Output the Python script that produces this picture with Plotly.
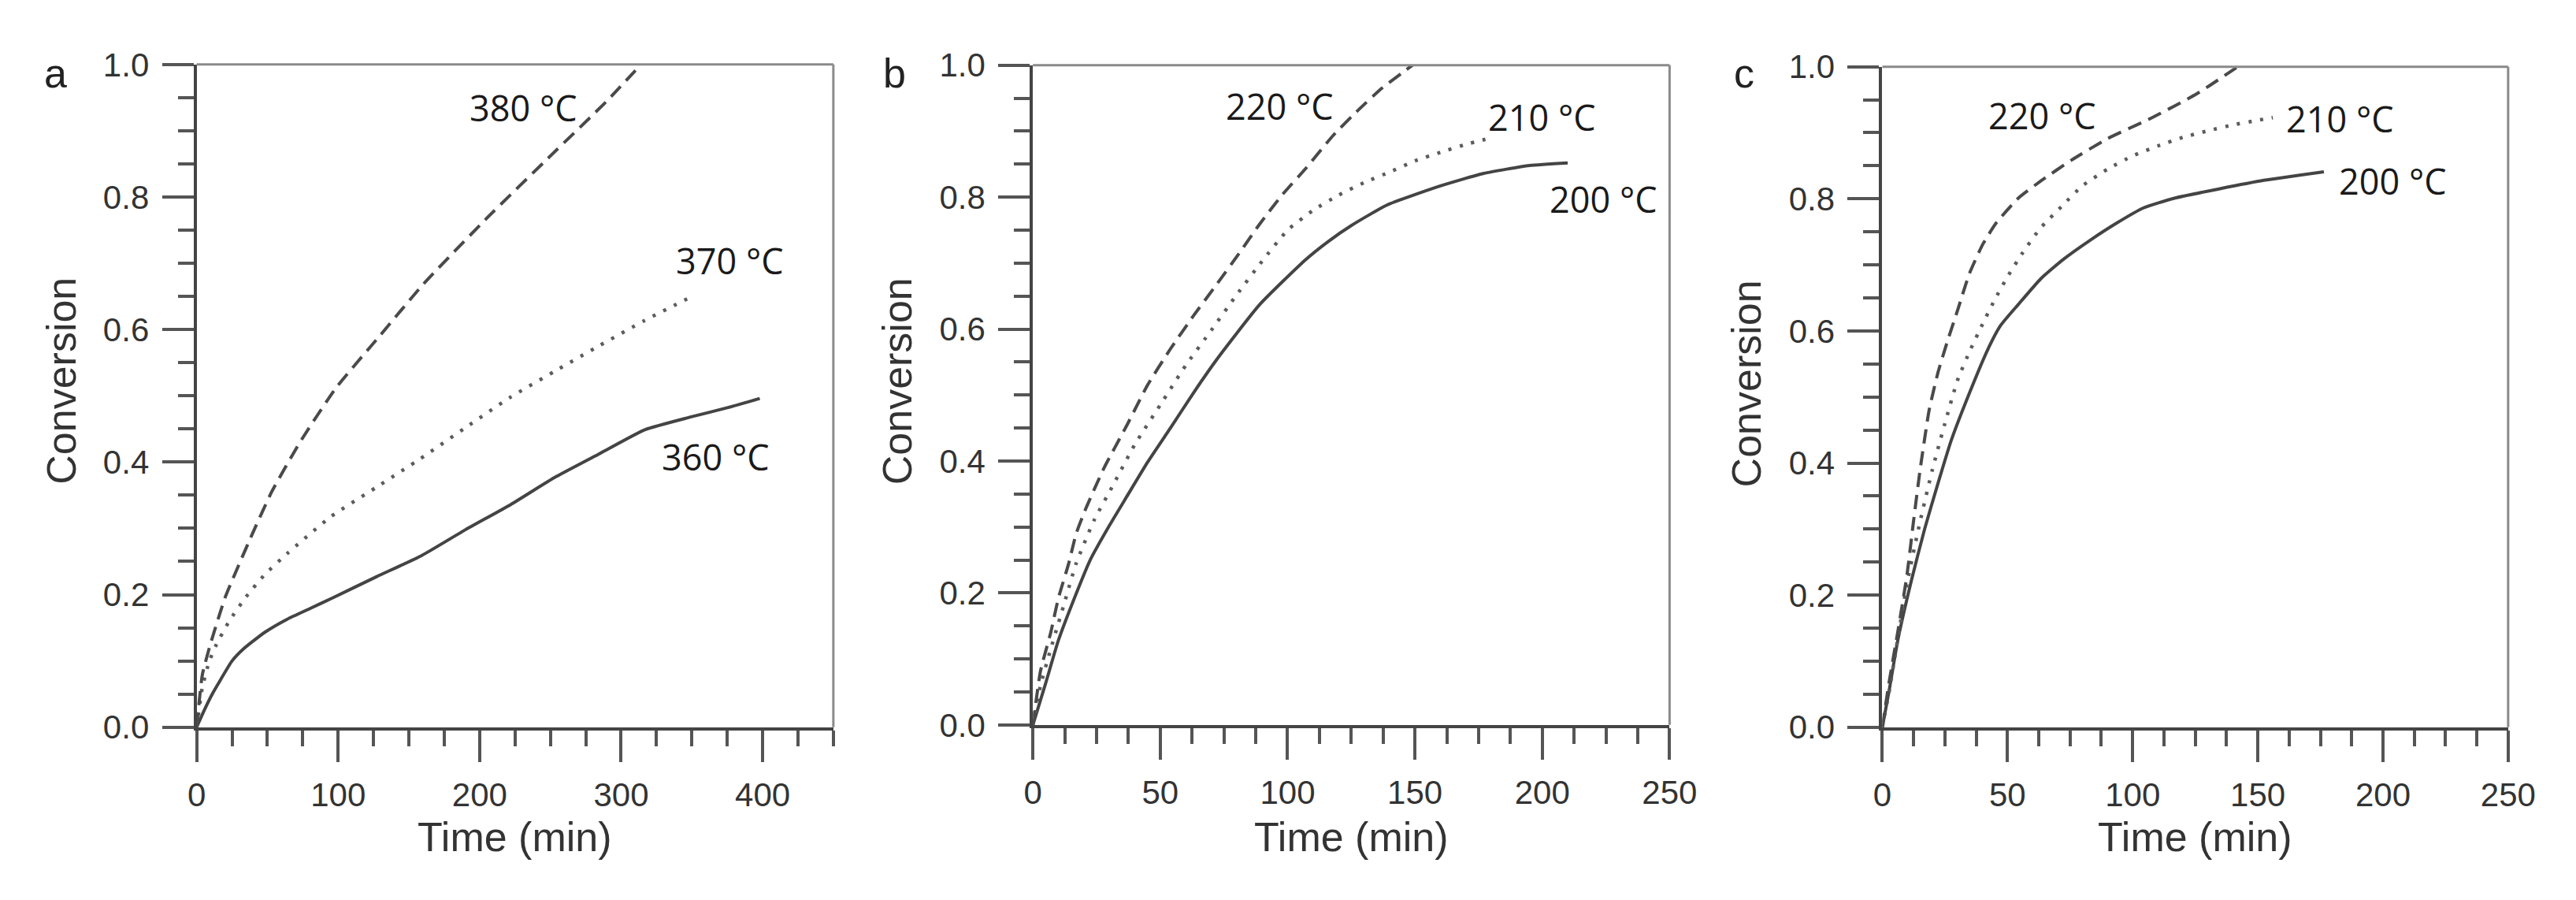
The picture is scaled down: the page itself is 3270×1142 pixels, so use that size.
import plotly.graph_objects as go

# --- data ---
# panel a : 360 / 370 / 380 degC
a_t360 = [0, 5, 11, 17, 25, 33, 48, 64, 80, 96, 127, 159, 190, 222, 254, 285, 317, 349, 375, 398]
a_c360 = [0, 0.024, 0.05, 0.072, 0.1, 0.118, 0.143, 0.163, 0.179, 0.195, 0.227, 0.259, 0.298, 0.336,
          0.378, 0.413, 0.449, 0.468, 0.482, 0.496]
a_t370 = [0, 4, 9, 14, 23, 35, 48, 64, 95, 127, 158, 190, 221, 253, 284, 316, 350]
a_c370 = [0, 0.06, 0.1, 0.125, 0.16, 0.197, 0.23, 0.262, 0.318, 0.362, 0.405, 0.452, 0.497, 0.537,
          0.575, 0.613, 0.65]
a_t380 = [0, 4, 9, 20, 39, 53, 73, 98.5, 130, 160, 205, 250, 290, 314]
a_c380 = [0, 0.079, 0.12, 0.195, 0.29, 0.355, 0.43, 0.512, 0.592, 0.668, 0.768, 0.862, 0.945, 1.0]

# panel b : 200 / 210 / 220 degC
b_t200 = [0, 5, 10, 17, 22.5, 30, 37, 45, 54, 63, 72, 89, 107, 116, 125, 139, 160, 177, 195, 210]
b_c200 = [0, 0.063, 0.128, 0.199, 0.25, 0.302, 0.347, 0.398, 0.45, 0.503, 0.553, 0.637, 0.705, 0.733,
          0.757, 0.788, 0.817, 0.836, 0.848, 0.852]
b_t210 = [0, 3, 7, 12, 17, 24, 31, 40, 50, 60, 70, 80, 90, 100, 110, 120, 130, 140, 150, 160, 170, 180]
b_c210 = [0, 0.06, 0.115, 0.18, 0.245, 0.31, 0.36, 0.425, 0.485, 0.545, 0.598, 0.652, 0.703, 0.75,
          0.78, 0.803, 0.822, 0.838, 0.855, 0.868, 0.88, 0.89]
b_t220 = [0, 3, 7, 10, 14, 17, 21, 28, 37, 45, 54, 63, 72, 81, 89, 98, 107, 118, 128, 137, 149]
b_c220 = [0, 0.082, 0.14, 0.192, 0.244, 0.29, 0.33, 0.39, 0.455, 0.515, 0.57, 0.62, 0.667, 0.715,
          0.759, 0.804, 0.843, 0.894, 0.933, 0.965, 1.0]

# panel c : 200 / 210 / 220 degC
c_t200 = [0, 2.7, 6.2, 11.6, 16.9, 22.3, 27.6, 34.7, 41.9, 47.2, 54.3, 63.3, 72.2, 82.9, 93.5, 104.2,
          116.7, 134.5, 152.4, 176.4]
c_c200 = [0, 0.055, 0.132, 0.222, 0.3, 0.37, 0.435, 0.505, 0.57, 0.608, 0.64, 0.679, 0.708, 0.737,
          0.763, 0.786, 0.801, 0.815, 0.828, 0.841]
c_t210 = [0, 3, 6, 10, 15, 20, 25, 30, 35, 40, 45, 50, 56, 63, 72, 80, 90, 100, 110, 120, 130, 140,
          150, 156]
c_c210 = [0, 0.06, 0.13, 0.22, 0.31, 0.39, 0.46, 0.525, 0.57, 0.61, 0.648, 0.682, 0.718, 0.755, 0.79,
          0.82, 0.845, 0.865, 0.88, 0.893, 0.903, 0.912, 0.919, 0.923]
c_t220 = [0, 2.7, 6.2, 9.8, 12.5, 15.1, 18.7, 22.3, 25.9, 30.3, 34.7, 40.1, 45.4, 54.3, 63.3, 75.7,
          89.9, 107.8, 125.6, 142]
c_c220 = [0, 0.068, 0.145, 0.229, 0.313, 0.39, 0.48, 0.538, 0.583, 0.634, 0.686, 0.731, 0.763, 0.801,
          0.827, 0.859, 0.891, 0.923, 0.959, 1.0]

# curve labels: (text, time, conversion)
a_labels = [('380 °C', 231, 0.935), ('370 °C', 377, 0.704), ('360 °C', 367, 0.408)]
b_labels = [('220 °C', 97, 0.938), ('210 °C', 200, 0.922), ('200 °C', 224, 0.797)]
c_labels = [('220 °C', 64, 0.926), ('210 °C', 183, 0.922), ('200 °C', 204, 0.827)]

W, H = 3270, 1142
AXIS_FONT = 'Liberation Sans, Arial, sans-serif'
STYLES = {
    'solid': dict(color='#444444', width=4, dash='solid'),
    'dot': dict(color='#5c5c5c', width=4.5, dash='4px,11px'),
    'dash': dict(color='#4a4a4a', width=4, dash='18px,10px'),
}

# pixel boxes of the three plot areas (left, right, top, bottom)
panels = [
    dict(letter='a', box=(233, 1053, 53, 930), xmax=450, dtick=100, minor=25, ytitle=472,
         series=[(a_t360, a_c360, 'solid'), (a_t370, a_c370, 'dot'), (a_t380, a_c380, 'dash')],
         labels=a_labels, lx=51),
    dict(letter='b', box=(1310, 2130, 54, 927), xmax=250, dtick=50, minor=12.5, ytitle=472,
         series=[(b_t200, b_c200, 'solid'), (b_t210, b_c210, 'dot'), (b_t220, b_c220, 'dash')],
         labels=b_labels, lx=1132),
    dict(letter='c', box=(2404, 3210, 56, 930), xmax=250, dtick=50, minor=12.5, ytitle=475,
         series=[(c_t200, c_c200, 'solid'), (c_t210, c_c210, 'dot'), (c_t220, c_c220, 'dash')],
         labels=c_labels, lx=2226),
]

fig = go.Figure()
annotations = []
shapes = []

for i, p in enumerate(panels):
    n = '' if i == 0 else str(i + 1)
    xa, ya = 'x' + n, 'y' + n
    left, right, top, bottom = p['box']

    for t, c, style in p['series']:
        fig.add_trace(go.Scatter(
            x=t, y=c, xaxis=xa, yaxis=ya, mode='lines', showlegend=False,
            line=dict(STYLES[style], shape='spline', smoothing=0.5),
        ))

    common = dict(showline=True, linecolor='#444444', linewidth=4, ticks='outside', ticklen=40,
                  tickwidth=4, tickcolor='#555555', showgrid=False, zeroline=False,
                  tickfont=dict(family=AXIS_FONT, size=42, color='#333333'))
    fig.layout['xaxis' + n] = dict(
        common, domain=[left / W, right / W], anchor=ya, range=[0, p['xmax']], dtick=p['dtick'],
        tick0=0, ticklabelstandoff=6,
        minor=dict(dtick=p['minor'], ticks='outside', ticklen=20, tickwidth=4, tickcolor='#555555'))
    fig.layout['yaxis' + n] = dict(
        common, domain=[1 - bottom / H, 1 - top / H], anchor=xa, range=[0, 1], dtick=0.2, tick0=0,
        tickformat='.1f', ticklabelstandoff=8,
        minor=dict(dtick=0.05, ticks='outside', ticklen=20, tickwidth=4, tickcolor='#555555'))

    # grey top and right frame
    for x0, y0, x1, y1 in [(0, 1, 1, 1), (1, 0, 1, 1)]:
        shapes.append(dict(type='line', xref=xa + ' domain', yref=ya + ' domain',
                           x0=x0, y0=y0, x1=x1, y1=y1, line=dict(color='#8a8a8a', width=3)))

    # panel letter
    annotations.append(dict(text=p['letter'], xref='paper', yref='paper', x=p['lx'] / W,
                            y=1 - 65 / H, showarrow=False, xanchor='center', yanchor='middle',
                            font=dict(family=AXIS_FONT, size=52, color='#222222')))
    # axis titles
    annotations.append(dict(text='Time (min)', xref=xa + ' domain', yref='paper', x=0.5,
                            y=1 - 1075 / H, showarrow=False, xanchor='center', yanchor='middle',
                            font=dict(family=AXIS_FONT, size=52, color='#333333')))
    annotations.append(dict(text='Conversion', xref='paper', yref='paper', x=(left - 175) / W,
                            y=1 - p['ytitle'] / H, showarrow=False, textangle=-90,
                            xanchor='center', yanchor='middle',
                            font=dict(family=AXIS_FONT, size=52, color='#333333')))
    # curve labels
    for text, t, c in p['labels']:
        annotations.append(dict(text=text, xref=xa, yref=ya, x=t, y=c, showarrow=False,
                                xanchor='center', yanchor='middle',
                                font=dict(family='Open Sans, sans-serif', size=45, color='#1a1a1a')))

fig.update_layout(width=W, height=H, autosize=False, margin=dict(l=0, r=0, t=0, b=0),
                  paper_bgcolor='white', plot_bgcolor='white',
                  annotations=annotations, shapes=shapes)

fig.write_html('out.html')
